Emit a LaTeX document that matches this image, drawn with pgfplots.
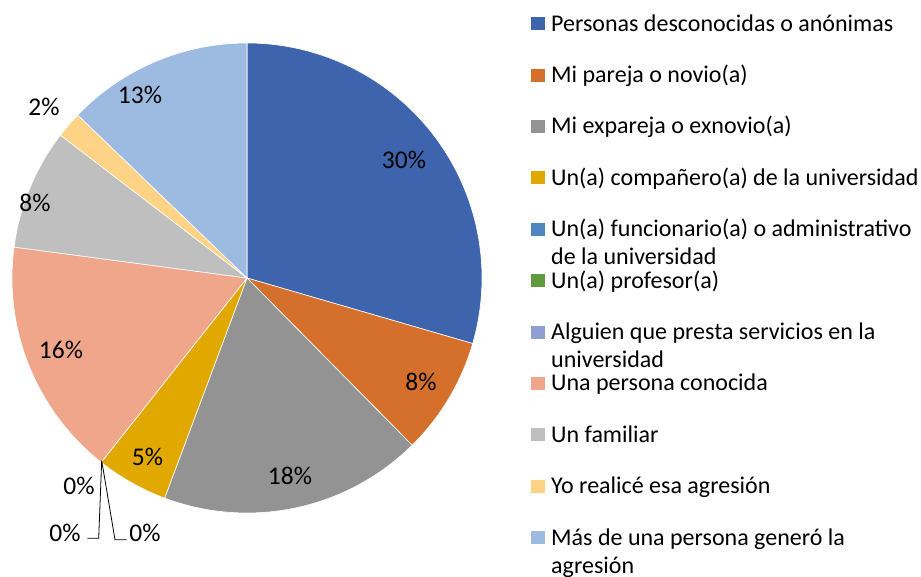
\documentclass[border=0pt]{standalone}
\usepackage{fontspec}
\setmainfont{Carlito}
\usepackage{pgfplots}
\pgfplotsset{compat=1.18}
\definecolor{c1}{HTML}{3E64AD}
\definecolor{c2}{HTML}{D5702C}
\definecolor{c3}{HTML}{939393}
\definecolor{c4}{HTML}{E1A800}
\definecolor{c5}{HTML}{4F88C0}
\definecolor{c6}{HTML}{5F9A3F}
\definecolor{c7}{HTML}{8E9FD4}
\definecolor{c8}{HTML}{F0A68A}
\definecolor{c9}{HTML}{BFBFBF}
\definecolor{c10}{HTML}{FED386}
\definecolor{c11}{HTML}{9DBBE0}
% slice: cumulative start (%), value (%), colour
\newcommand{\slice}[3]{\fill[#3, draw=white, line width=0.6pt] (axis cs:247,299) -- ++({90-3.6*(#1)}:235pt) arc[start angle={90-3.6*(#1)}, end angle={90-3.6*(#1+#2)}, radius=235pt] -- cycle;}
\newcommand{\plabel}[3]{\node[font=\fontsize{25.5}{30}\selectfont, inner sep=0pt] at (axis cs:#1,{577-#2}) {#3};}
\newcommand{\lentry}[3]{%
  \fill[#2] (axis cs:531,{577-#1+6.5}) rectangle (axis cs:545,{577-#1-6.5});
  \node[anchor=base west, inner sep=0pt, font=\fontsize{24}{28}\selectfont] at (axis cs:551,{577-#1-7.5}) {#3};}
\newcommand{\lline}[2]{\node[anchor=base west, inner sep=0pt, font=\fontsize{24}{28}\selectfont] at (axis cs:551,{577-#1-7.5-28}) {#2};}
\begin{document}
\begin{tikzpicture}
\path[use as bounding box] (0,0) rectangle (921pt,577pt);
\begin{axis}[hide axis, scale only axis, width=921pt, height=577pt,
  xmin=0, xmax=921, ymin=0, ymax=577, clip=false, anchor=south west, at={(0,0)}]
\slice{0}{29.5}{c1}
\slice{29.5}{8.1}{c2}
\slice{37.6}{18.1}{c3}
\slice{55.7}{4.95}{c4}
\slice{60.65}{16.45}{c8}
\slice{77.1}{8.3}{c9}
\slice{85.4}{1.8}{c10}
\slice{87.2}{12.8}{c11}
\plabel{404}{160}{30\%}
\plabel{421}{382}{8\%}
\plabel{290}{476}{18\%}
\plabel{147.5}{457}{5\%}
\plabel{61}{350}{16\%}
\plabel{35}{203}{8\%}
\plabel{44}{107}{2\%}
\plabel{140}{95}{13\%}
\plabel{79}{486}{0\%}
\plabel{65}{533}{0\%}
\plabel{145}{533}{0\%}
\draw[line width=0.8pt] (axis cs:101.7,116.3) -- (axis cs:98.7,38.7) -- (axis cs:87.3,38.7);
\draw[line width=0.8pt] (axis cs:101.7,116.3) -- (axis cs:115,37.3) -- (axis cs:126.7,37.3);
\lentry{23.7}{c1}{Personas desconocidas o anónimas}
\lentry{75.1}{c2}{Mi pareja o novio(a)}
\lentry{126.5}{c3}{Mi expareja o exnovio(a)}
\lentry{177.9}{c4}{Un(a) compañero(a) de la universidad}
\lentry{229.3}{c5}{Un(a) funcionario(a) o administrativo}
\lline{229.3}{de la universidad}
\lentry{280.7}{c6}{Un(a) profesor(a)}
\lentry{332.1}{c7}{Alguien que presta servicios en la}
\lline{332.1}{universidad}
\lentry{383.5}{c8}{Una persona conocida}
\lentry{434.9}{c9}{Un familiar}
\lentry{486.3}{c10}{Yo realicé esa agresión}
\lentry{537.7}{c11}{Más de una persona generó la}
\lline{537.7}{agresión}
\end{axis}
\end{tikzpicture}
\end{document}
